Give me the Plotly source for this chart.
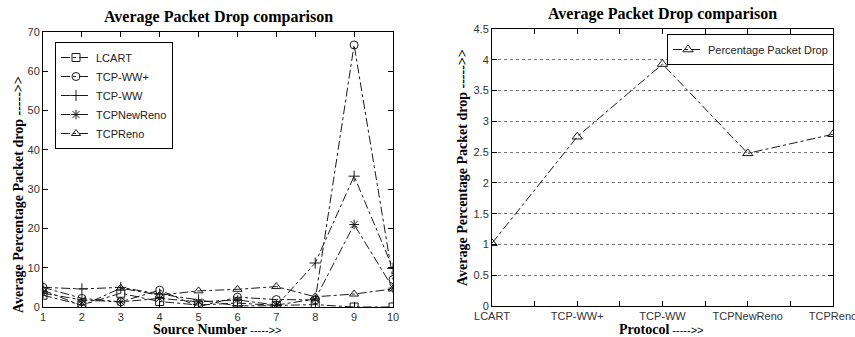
import plotly.graph_objects as go

W, H = 855, 337

# ---- Data: left panel ----
source_numbers = [1, 2, 3, 4, 5, 6, 7, 8, 9, 10]
lcart = [3.0, 0.5, 3.5, 1.4, 0.5, 1.0, 0.4, 0.6, 0.0, 0.0]
tcp_ww_plus = [5.0, 2.2, 1.3, 4.3, 0.1, 2.5, 1.9, 1.8, 66.7, 7.0]
tcp_ww = [5.0, 4.6, 5.0, 3.3, 1.8, 0.3, 0.3, 11.2, 33.3, 9.8]
tcp_newreno = [3.5, 1.8, 1.3, 2.2, 1.3, 1.8, 0.5, 2.0, 21.0, 4.8]
tcp_reno = [4.3, 0.3, 4.8, 3.0, 4.1, 4.5, 5.2, 2.6, 3.3, 4.6]
series_names = ["LCART", "TCP-WW+", "TCP-WW", "TCPNewReno", "TCPReno"]

# ---- Data: right panel ----
protocols = ["LCART", "TCP-WW+", "TCP-WW", "TCPNewReno", "TCPReno"]
pct_drop = [1.02, 2.75, 3.93, 2.48, 2.79]

left_y_ticks = [0, 10, 20, 30, 40, 50, 60, 70]
right_y_ticks = [0, 0.5, 1, 1.5, 2, 2.5, 3, 3.5, 4, 4.5]
right_y_ticklabels = ["0", "0.5", "1", "1.5", "2", "2.5", "3", "3.5", "4", "4.5"]

LINE = "#1a1a1a"
symbols = ["square-open", "circle-open", "cross-thin-open", "asterisk-open", "triangle-up-open"]
values = [lcart, tcp_ww_plus, tcp_ww, tcp_newreno, tcp_reno]

fig = go.Figure()
for name, sym, vals in zip(series_names, symbols, values):
    fig.add_trace(go.Scatter(
        x=source_numbers, y=vals, name=name, mode="lines+markers",
        line=dict(color=LINE, width=1, dash="dashdot"),
        marker=dict(symbol=sym, size=8, color=LINE, line=dict(color=LINE, width=1)),
        xaxis="x", yaxis="y", legend="legend",
    ))

fig.add_trace(go.Scatter(
    x=list(range(len(protocols))), y=pct_drop, name="Percentage Packet Drop",
    mode="lines+markers",
    line=dict(color=LINE, width=1, dash="dashdot"),
    marker=dict(symbol="triangle-up-open", size=9, color=LINE, line=dict(color=LINE, width=1)),
    xaxis="x2", yaxis="y2", legend="legend2",
))

def px(x):
    return x / W

def py(y):
    return 1 - y / H

tickfont = dict(family="Liberation Sans, Arial", size=11, color="#333")
axis_common = dict(showline=True, linecolor="black", linewidth=1, mirror="ticks",
                   ticks="inside", ticklen=5, tickcolor="black", zeroline=False,
                   tickfont=tickfont, showgrid=False, automargin=False,
                   ticklabeloverflow="allow")

fig.update_layout(
    width=W, height=H, margin=dict(l=0, r=0, t=0, b=0, autoexpand=False),
    paper_bgcolor="white", plot_bgcolor="white",
    xaxis=dict(domain=[px(43), px(393)], anchor="y", range=[1, 10],
               tickvals=source_numbers, **axis_common),
    yaxis=dict(domain=[py(307), py(32)], anchor="x", range=[0, 70],
               tickvals=left_y_ticks, **axis_common),
    xaxis2=dict(domain=[px(492), px(833)], anchor="y2", range=[0, 4],
                tickvals=list(range(len(protocols))), ticktext=protocols,
                minor=dict(ticks="inside", dtick=0.5, tick0=0, ticklen=5, tickcolor="black"),
                **axis_common),
    yaxis2=dict(domain=[py(306), py(29)], anchor="x2", range=[0, 4.5],
                tickvals=right_y_ticks, ticktext=right_y_ticklabels,
                **{**axis_common, "showgrid": True}, gridcolor="#777", griddash="dot", gridwidth=1),
    legend=dict(x=px(55), y=py(42), xanchor="left", yanchor="top",
                bordercolor="black", borderwidth=1, bgcolor="white",
                font=dict(family="Liberation Sans, Arial", size=11, color="#222"),
                tracegroupgap=0, itemwidth=30),
    legend2=dict(x=px(667), y=py(34), xanchor="left", yanchor="top",
                 bordercolor="black", borderwidth=1, bgcolor="white",
                 font=dict(family="Liberation Sans, Arial", size=11, color="#222"),
                 itemwidth=30),
    showlegend=True,
)

serif = "Liberation Serif, Times New Roman"
title_font = dict(family=serif, size=16, color="black")
axt_font = dict(family=serif, size=14, color="black")
arrow = "<span style='font-family:Liberation Sans;font-weight:normal;font-size:11px'> ----->></span>"

anns = [
    dict(text="<b>Average Packet Drop comparison</b>", x=px(218), y=py(17), font=title_font),
    dict(text="<b>Average Packet Drop comparison</b>", x=px(662), y=py(14), font=title_font),
    dict(text="<b>Source Number</b>" + arrow, x=px(217), y=py(329), font=axt_font),
    dict(text="<b>Protocol</b>" + arrow, x=px(661), y=py(329), font=axt_font),
    dict(text="<b>Average Percentage Packet drop ----->></b>", x=px(18), y=py(195), font=axt_font, textangle=-90),
    dict(text="<b>Average Percentage Packet drop ----->></b>", x=px(462), y=py(168), font=axt_font, textangle=-90),
]
for a in anns:
    fig.add_annotation(xref="paper", yref="paper", showarrow=False,
                       xanchor="center", yanchor="middle", **a)

fig.write_html("out.html", config={"displayModeBar": False},
               post_script="document.body.style.margin='0';document.body.style.overflow='hidden';")
